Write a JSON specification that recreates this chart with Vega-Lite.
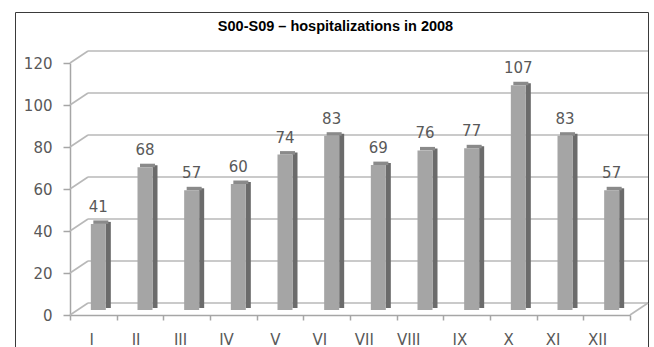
{
  "$schema": "https://vega.github.io/schema/vega-lite/v6.json",
  "width": 633,
  "height": 360,
  "autosize": {"type": "none"},
  "padding": {"left": 15, "top": 12, "right": 6, "bottom": 0},
  "background": "white",
  "title": {
    "text": "S00-S09 – hospitalizations in 2008",
    "font": "Liberation Sans",
    "fontSize": 14.5,
    "fontWeight": "bold",
    "color": "#000000",
    "anchor": "middle",
    "baseline": "alphabetic",
    "offset": -33,
    "dx": 4
  },
  "config": {
    "view": {"stroke": "#3a3a3a", "strokeWidth": 1},
    "axis": {
      "labelFont": "DejaVu Sans",
      "labelFontSize": 15,
      "labelColor": "#595959",
      "domainColor": "#a6a6a6",
      "tickColor": "#a6a6a6",
      "domainWidth": 1.5,
      "tickWidth": 1.5,
      "grid": false,
      "title": null
    }
  },
  "datasets": {
    "months": [
      {"month": "I", "cases": 41},
      {"month": "II", "cases": 68},
      {"month": "III", "cases": 57},
      {"month": "IV", "cases": 60},
      {"month": "V", "cases": 74},
      {"month": "VI", "cases": 83},
      {"month": "VII", "cases": 69},
      {"month": "VIII", "cases": 76},
      {"month": "IX", "cases": 77},
      {"month": "X", "cases": 107},
      {"month": "XI", "cases": 83},
      {"month": "XII", "cases": 57}
    ],
    "levels": [
      {"level": 0}, {"level": 20}, {"level": 40}, {"level": 60},
      {"level": 80}, {"level": 100}, {"level": 120}
    ]
  },
  "layer": [
    {
      "data": {"name": "levels"},
      "mark": {"type": "rule", "color": "#b8b8b8", "strokeWidth": 1.6, "xOffset": 18, "x2Offset": 18, "yOffset": -12},
      "encoding": {
        "x": {"datum": "I", "type": "nominal", "bandPosition": 0,
              "scale": {"domain": ["I","II","III","IV","V","VI","VII","VIII","IX","X","XI","XII"], "range": [55, 615], "paddingInner": 0, "paddingOuter": 0}},
        "x2": {"datum": "XII", "bandPosition": 1},
        "y": {"field": "level", "type": "quantitative",
              "scale": {"domain": [0, 120], "range": [303, 51], "nice": false}}
      }
    },
    {
      "data": {"name": "levels"},
      "mark": {"type": "rule", "color": "#b8b8b8", "strokeWidth": 1.6, "x2Offset": 18, "y2Offset": -12},
      "encoding": {
        "x": {"datum": "I", "type": "nominal", "bandPosition": 0},
        "x2": {"datum": "I", "bandPosition": 0},
        "y": {"field": "level", "type": "quantitative"},
        "y2": {"field": "level"}
      }
    },
    {
      "data": {"values": [{"level": 0}]},
      "mark": {"type": "rule", "color": "#b8b8b8", "strokeWidth": 1.6, "x2Offset": 18, "y2Offset": -12},
      "encoding": {
        "x": {"datum": "XII", "type": "nominal", "bandPosition": 1},
        "x2": {"datum": "XII", "bandPosition": 1},
        "y": {"field": "level", "type": "quantitative"},
        "y2": {"field": "level"}
      }
    },
    {
      "data": {"name": "months"},
      "mark": {"type": "bar", "width": 5, "color": "#6b6b6b", "xOffset": 15, "yOffset": -7, "y2Offset": -7},
      "encoding": {
        "x": {"field": "month", "type": "nominal", "sort": null},
        "y": {"field": "cases", "type": "quantitative"}
      }
    },
    {
      "data": {"name": "months"},
      "mark": {"type": "bar", "width": 15, "color": "#8a8a8a", "xOffset": 7.5, "yOffset": -8.5, "y2Offset": -5},
      "encoding": {
        "x": {"field": "month", "type": "nominal", "sort": null},
        "y": {"field": "cases", "type": "quantitative"},
        "y2": {"field": "cases"}
      }
    },
    {
      "data": {"name": "months"},
      "mark": {"type": "bar", "width": 15, "color": "#a5a5a5", "xOffset": 5, "yOffset": -5, "y2Offset": -5},
      "encoding": {
        "x": {"field": "month", "type": "nominal", "sort": null,
              "axis": {"orient": "bottom", "offset": -57, "tickBand": "extent", "tickSize": 5, "labelPadding": 19, "labelAngle": 0}},
        "y": {"field": "cases", "type": "quantitative",
              "axis": {"orient": "left", "offset": -55, "values": [0, 20, 40, 60, 80, 100, 120], "tickSize": 7, "labelPadding": 11}}
      }
    },
    {
      "data": {"name": "months"},
      "mark": {"type": "text", "font": "DejaVu Sans", "fontSize": 15, "color": "#595959", "baseline": "alphabetic", "xOffset": 5, "yOffset": -17},
      "encoding": {
        "x": {"field": "month", "type": "nominal", "sort": null},
        "y": {"field": "cases", "type": "quantitative"},
        "text": {"field": "cases", "type": "quantitative"}
      }
    }
  ]
}
